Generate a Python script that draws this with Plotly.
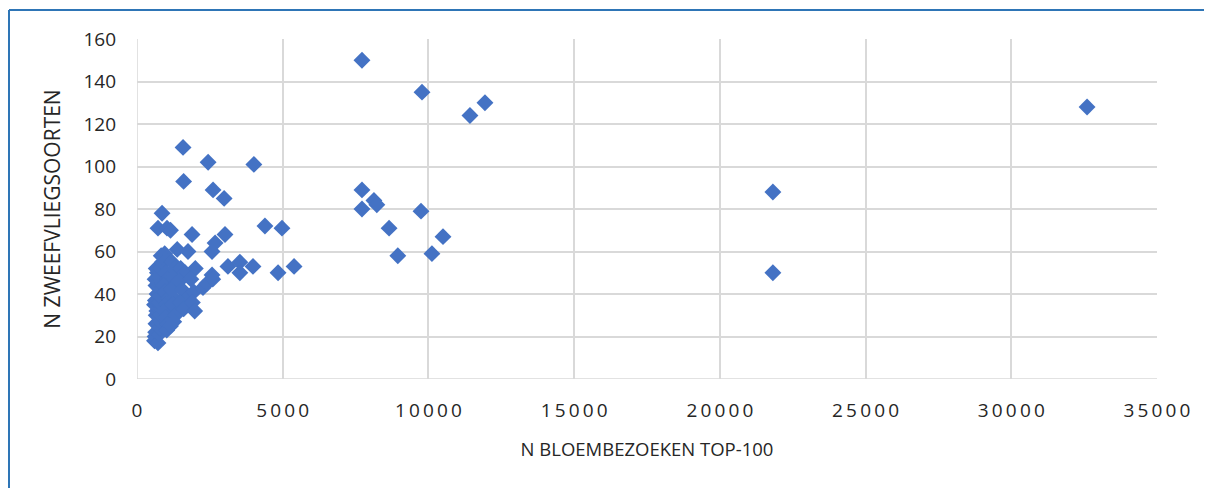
import plotly.graph_objects as go

# flower visits (top-100) vs number of hoverfly species
visits = [
    600, 620, 640, 650, 660, 680, 600, 630, 690, 650, 620, 700, 660,
    720, 760, 780, 800, 820, 840, 760, 790, 850, 880, 740, 810, 870, 830, 720,
    860, 1030, 950, 980, 1000, 1050, 920, 960, 1080, 1010, 940, 990, 1060, 1020,
    1150, 1380, 1200, 1300, 1250, 1350, 1180, 1280, 1220, 1320, 1260, 1150,
    1750, 1500, 1650, 1450, 1550, 1700, 1480, 1600,
    1890, 2000, 1850, 1950, 1900, 1980,
    1580, 1600,
    2440, 2610, 2990, 2680, 2575, 3020, 3120, 3530, 3530, 3980, 2575, 2265,
    2400, 2600, 4390, 4975, 4840, 5390, 4010,
    7720, 9780, 11425, 11940, 32600, 21820, 21820,
    7720, 7720, 8130, 8230, 8650, 9745, 10500, 10120, 8950,
]
species = [
    18, 20, 22, 26, 30, 32, 35, 37, 40, 44, 47, 50, 52,
    17, 21, 24, 27, 30, 33, 36, 39, 42, 45, 48, 52, 55, 58, 71,
    78, 71, 59, 56, 50, 47, 44, 41, 38, 35, 32, 29, 26, 23,
    70, 61, 55, 52, 48, 45, 42, 38, 35, 30, 27, 25,
    60, 52, 50, 46, 42, 38, 36, 33,
    68, 52, 47, 41, 36, 32,
    109, 93,
    102, 89, 85, 64, 60, 68, 53, 55, 50, 53, 49, 43,
    45, 47, 72, 71, 50, 53, 101,
    150, 135, 124, 130, 128, 88, 50,
    89, 80, 84, 82, 71, 79, 67, 59, 58,
]

x_ticks = [0, 5000, 10000, 15000, 20000, 25000, 30000, 35000]
# Excel-style spaced digits on the x axis
x_labels = ["\u2009".join(str(v)) for v in x_ticks]

W, H = 1212, 488
# the page puts the figure 8px in from the top-left corner
L, R, T, B = 129, 63, 31, 117
pw, ph = W - L - R, H - T - B


def px(x):
    return (x - L) / pw


def py(y):
    return (H - B - y) / ph


fig = go.Figure()
fig.add_trace(go.Scatter(
    x=visits, y=species,
    mode="markers",
    marker=dict(symbol="diamond", size=13, color="#4472C4", line=dict(width=0)),
    showlegend=False,
))

grid = "#d9d9d9"
font = dict(family="Open Sans, Liberation Sans, sans-serif", size=19, color="#262626")

fig.update_layout(
    width=W, height=H,
    margin=dict(l=L, r=R, t=T, b=B, autoexpand=False),
    paper_bgcolor="white",
    plot_bgcolor="white",
    font=font,
    xaxis=dict(
        range=[0, 35000], tickvals=x_ticks, ticktext=x_labels, automargin=False,
        showgrid=True, gridcolor=grid, gridwidth=1.5,
        zeroline=False, showline=False, ticks="", ticklabelstandoff=18,
        title=dict(text="N BLOEMBEZOEKEN TOP-100", font=dict(size=18.5), standoff=21),
    ),
    yaxis=dict(
        range=[0, 160], dtick=20, automargin=False,
        showgrid=True, gridcolor=grid, gridwidth=1.5,
        zeroline=False, showline=False, ticks="", ticklabelstandoff=20,
        title=dict(text="N ZWEEFVLIEGSOORTEN", font=dict(size=21), standoff=17),
    ),
    shapes=[
        dict(type="line", xref="x", yref="y", x0=0, x1=0, y0=0, y1=160,
             line=dict(color=grid, width=1.5), layer="below"),
        dict(type="line", xref="x", yref="y", x0=0, x1=35000, y0=0, y1=0,
             line=dict(color=grid, width=1.5), layer="below"),
        # blue chart border, left and top edges
        dict(type="line", xref="paper", yref="paper",
             x0=px(1), x1=px(1), y0=py(H + 10), y1=py(2),
             line=dict(color="#2E75B6", width=2), layer="below"),
        dict(type="line", xref="paper", yref="paper",
             x0=px(1), x1=px(W + 10), y0=py(2), y1=py(2),
             line=dict(color="#2E75B6", width=2), layer="below"),
    ],
)

fig.write_html("out.html")
